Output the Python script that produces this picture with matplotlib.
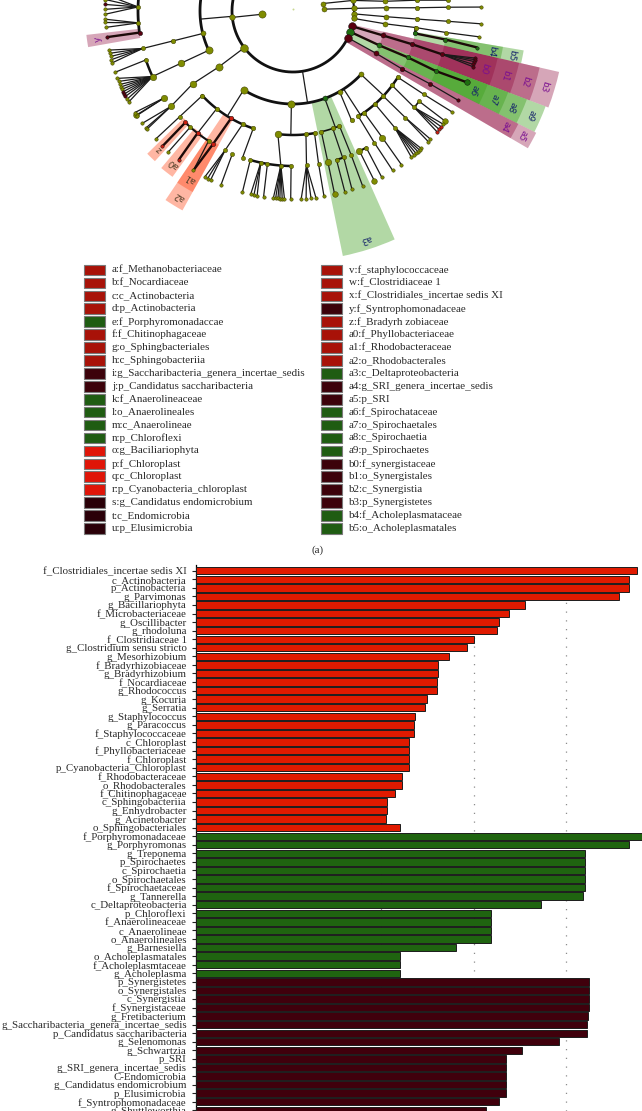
import numpy as np
import matplotlib
matplotlib.use('Agg')
import matplotlib.pyplot as plt
from matplotlib.patches import Wedge, Rectangle
from matplotlib.collections import LineCollection

# bar chart data, top to bottom
red_names = ['f_Clostridiales_incertae sedis XI','c_Actinobacteria','p_Actinobacteria','g_Parvimonas','g_Bacillariophyta',
             'f_Microbacteriaceae','g_Oscillibacter','g_rhodoluna','f_Clostridiaceae 1','g_Clostridium sensu stricto',
             'g_Mesorhizobium','f_Bradyrhizobiaceae','g_Bradyrhizobium','f_Nocardiaceae','g_Rhodococcus','g_Kocuria',
             'g_Serratia','g_Staphylococcus','g_Paracoccus','f_Staphylococcaceae','c_Chloroplast','f_Phyllobacteriaceae',
             'f_Chloroplast','p_Cyanobacteria_Chloroplast','f_Rhodobacteraceae','o_Rhodobacterales','f_Chitinophagaceae',
             'c_Sphingobacteriia','g_Enhydrobacter','g_Acinetobacter','o_Sphingobacteriales']
red_values = [4.77,4.68,4.68,4.57,3.56,3.38,3.28,3.25,3.00,2.93,2.74,2.62,2.62,2.60,2.60,2.50,2.48,2.37,2.36,2.36,
              2.30,2.30,2.30,2.30,2.23,2.23,2.15,2.06,2.06,2.05,2.20]
green_names = ['f_Porphyromonadaceae','g_Porphyromonas','g_Treponema','p_Spirochaetes','c_Spirochaetia','o_Spirochaetales',
               'f_Spirochaetaceae','g_Tannerella','c_Deltaproteobacteria','p_Chloroflexi','f_Anaerolineaceae','c_Anaerolineae',
               'o_Anaerolineales','g_Barnesiella','o_Acholeplasmatales','f_Acholeplasmtaceae','g_Acholeplasma']
green_values = [4.82,4.68,4.21,4.21,4.21,4.21,4.21,4.18,3.73,3.19,3.19,3.19,3.19,2.81,2.20,2.20,2.20]
dark_names = ['p_Synergistetes','o_Synergistales','c_Synergistia','f_Synergistaceae','g_Fretibacterium',
              'g_Saccharibacteria_genera_incertae_sedis','p_Candidatus saccharibacteria','g_Selenomonas','g_Schwartzia',
              'p_SRI','g_SRI_genera_incertae_sedis','C-Endomicrobia','g_Candidatus endomicrobium','p_Elusimicrobia',
              'f_Syntrophomonadaceae','g_Shuttleworthia']
dark_values = [4.25,4.25,4.25,4.25,4.24,4.23,4.23,3.93,3.52,3.35,3.35,3.35,3.35,3.35,3.28,3.14]

# legend of the cladogram
legend_left = ['a:f_Methanobacteriaceae','b:f_Nocardiaceae','c:c_Actinobacteria','d:p_Actinobacteria','e:f_Porphyromonadaccae',
               'f:f_Chitinophagaceae','g:o_Sphingbacteriales','h:c_Sphingobacteriia','i:g_Saccharibacteria_genera_incertae_sedis',
               'j:p_Candidatus saccharibacteria','k:f_Anaerolineaceae','l:o_Anaerolineales','m:c_Anaerolineae','n:p_Chloroflexi',
               'o:g_Baciliariophyta','p:f_Chloroplast','q:c_Chloroplast','r:p_Cyanobacteria_chloroplast',
               's:g_Candidatus endomicrobium','t:c_Endomicrobia','u:p_Elusimicrobia']
legend_left_groups = list('rrrrgrrrddggggRRRRkkk')
legend_right = ['v:f_staphylococcaceae','w:f_Clostridiaceae 1','x:f_Clostridiales_incertae sedis XI','y:f_Syntrophomonadaceae',
                'z:f_Bradyrh zobiaceae','a0:f_Phyllobacteriaceae','a1:f_Rhodobacteraceae','a2:o_Rhodobacterales',
                'a3:c_Deltaproteobacteria','a4:g_SRI_genera_incertae_sedis','a5:p_SRI','a6:f_Spirochataceae','a7:o_Spirochaetales',
                'a8:c_Spirochaetia','a9:p_Spirochaetes','b0:f_synergistaceae','b1:o_Synergistales','b2:c_Synergistia',
                'b3:p_Synergistetes','b4:f_Acholeplasmataceae','b5:o_Acholeplasmatales']
legend_right_groups = list('rrrdrrrrgddggggddddgg')
swatch_colours = {'r':'#a81208','R':'#e01508','g':'#1f5c12','d':'#3c020a','k':'#2a0008'}

# cladogram: ring radius by taxonomic level, branches as angle per level
levels = [0,31,61,93,124,155,188]
# (first level, angle at each following level, group)
chains = [(1,[-14,-10,-6,-5,-4],'o'),(1,[-3.4,-2.5,-2,-1.5,-1.4,-1.2],'o'),(2,[2.7,3.5,3.7,3.8,3.9],'o'),(2,[7,7.9,7.7,8,7.9],'o'),
          (4,[10.4,10.6,11.2],'g'),(2,[14.5,15.2,15.6,16.2],'d'),(2,[20,21.7,22,22.8,22.3],'g'),(2,[26,27,28,28,28.4],'a'),
          (4,[32.3,32.5,32.4],'o'),(4,[36.9,38.5],'o'),(5,[35.6,35.9],'o'),(4,[43.3,43.5],'o'),(4,[48.6,48.9],'o'),(4,[55,54.8,54.8],'o'),
          (4,[58.2,58.3,58],'o'),(3,[60,61.8],'o'),(5,[64.6,64.4],'o'),(5,[61.8,61.9],'o'),(4,[68,68,68.3],'o'),(3,[70],'g'),(4,[71.3],'o'),
          (5,[73.7,74],'o'),(5,[70.9,71.7],'o'),(4,[76.8,77,77.2],'o'),(4,[80,80.5,80.5],'o'),(4,[84,85],'o'),(4,[97,94.5],'o'),
          (5,[90.7,90.7],'o'),(5,[106,105.6],'o'),(5,[99.5,99],'o'),(4,[108.7,109],'o'),(4,[114,116],'o'),(5,[113,112.5],'o'),
          (3,[122],'o'),(4,[120,121,122],'r'),(3,[91],'o'),(3,[43],'o'),(4,[128],'o'),(5,[134,134],'r'),(5,[128,127.5],'r'),(5,[131.5,131.5],'o'),
          (5,[123,122],'o'),(4,[137,137,137],'o'),(2,[143,143,144,142],'o'),(5,[146,146.4],'o'),(3,[155,155,155],'o'),(5,[161.6,161],'o'),
          (3,[166,166,166],'o'),(5,[172,172],'d'),(1,[174,174],'o'),(5,[181.5],'o'),(5,[175.6],'o')]
# connecting lines between rings that carry no circle of their own: (angle, level)
spokes = [(81,2),(91,3),(43,3),(122,3),(175,2),(128,4),(70,3),(71.3,4),(57,3)]
# (angle, level, child angles one level further out, group)
fans = [(16.2,5,[14.5,15,15.6,16.5,17.2],'d'),(38.5,5,[37,38,39,40],'o'),(43.5,5,[43,44],'o'),(48.9,5,[47,47.7,48.4,49.2,50,51],'o'),
        (102,5,[102,103,101],'o'),(94.5,5,[96,95.3,94.6,94,93.3,92.6],'o'),(85,5,[87.5,86,84.5,83],'o'),(116,5,[118,117,116],'o'),
        (142,5,[143.3,141.5,141],'o'),(146,5,[147.3,146.2],'o'),(155,5,[159,158,157,156.2,155.4,154.6,153.8,153,152,151],'o'),
        (166,5,[168,167,166,165,164],'o'),(181.5,5,[185,183.5,182,180.5,179],'o'),(175.6,5,[177.5,176.5,175],'o')]
# (from angle, to angle, level, line width)
arcs = [(-10,8,2,1.5),(13,190,2,2.0),(7.7,10.4,4,1.8),(43,122,3,2.0),(32.3,58.2,4,1.8),(35.6,38.5,5,1.2),(80,97,4,1.8),(90.7,106,5,1.8),
        (61.8,64.6,5,1.5),(70.9,73.7,5,1.5),(108.7,137,4,1.8),(123,134,5,1.5),(155,190,3,2.0),(155,161.6,5,1.8),(172,190,5,2.0),
        (68,76.8,4,1.2)]
# (level, angle) of the larger circles
big_nodes = [(1,174),(2,143),(3,143),(4,144),(5,142),(5,146),(6,146.4),(3,155),(4,155),(5,155),(5,77),(6,77.2),(5,64.6),(6,64.4),
             (5,54.8),(6,35.9),(2,14.5),(2,20),(3,91),(3,122),(4,97),(6,22.3),(2,26)]
dark_leaves = [(6,154.6),(6,153.8),(6,153),(6,182)]
red_leaves = [(6,38),(6,39),(6,40)]

# sectors: label, from angle, to angle, inner and outer radius, group
sector_names = ['a3','b0','b1','b2','b3','a6','a7','a8','a9','a4','a5','b4','b5','y','z','a0','a1','a2']
sector_from = [66,12.9,12.9,12.9,12.9,20.7,20.7,20.7,20.7,26.6,26.6,9.7,9.7,170,132.6,126,119,119]
sector_to = [78.5,20.7,20.7,20.7,20.7,26.6,26.6,26.6,26.6,30.3,30.3,12.9,12.9,173.4,135.6,130,124,124]
sector_inner = [93,155,124,93,61,155,124,93,61,61,61,155,124,155,153,153,153,124]
sector_outer = [250,210,232,253,273,208,230,250,270,252,272,213,234,208,204,205,207,228]
sector_groups = ['g','d','d','d','d','g','g','g','g','d','d','g','g','d','r','r','r','r']
sector_colours = {'g':('#3f9f1f',0.40),'d':('#8f0a3c',0.36),'r':('#ff4a1a',0.40)}
label_colours = {'g':'#15246a','d':'#7a1090','r':'#54402a'}
node_colours = {'o':'#7f8c00','g':'#1f6e10','d':'#5a0010','a':'#5a0010','r':'#c81e10'}

cx, cy = 293, 11
W, H = 642, 1111
serif = ['Liberation Serif','DejaVu Serif']
text_colour = '#2a2a2a'

def polar(angle, level):
    rad = np.radians(angle)
    return cx + levels[level]*np.cos(rad), cy + levels[level]*np.sin(rad)

fig = plt.figure(figsize=(W/100,H/100), dpi=100, facecolor='white')

# everything above the bars is drawn in pixel coordinates
top = fig.add_axes([0,0,1,1])
top.set_xlim(0,W)
top.set_ylim(H,0)
top.axis('off')

for i in range(len(sector_names)):
    colour, alpha = sector_colours[sector_groups[i]]
    top.add_patch(Wedge((cx,cy),sector_outer[i],sector_from[i],sector_to[i],width=sector_outer[i]-sector_inner[i],
                        facecolor=colour,alpha=alpha,edgecolor='none',zorder=1))
    mid = (sector_from[i]+sector_to[i])/2
    r = sector_outer[i]-11
    top.text(cx+r*np.cos(np.radians(mid)),cy+r*np.sin(np.radians(mid)),sector_names[i],rotation=270-mid,fontsize=6.5,
             color=label_colours[sector_groups[i]],ha='center',va='center',rotation_mode='anchor',zorder=5)

for a0,a1,lev,lw in arcs:
    t = np.radians(np.linspace(a0,a1,60))
    top.plot(cx+levels[lev]*np.cos(t),cy+levels[lev]*np.sin(t),color='#111111',lw=lw,zorder=2)

segs, thick, pts = [], [], {}
for a,lev in spokes:
    segs.append([polar(a,lev),polar(a,lev+1)])
for start,angles,group in chains:
    xy = [polar(a,start+k) for k,a in enumerate(angles)]
    for p,q in zip(xy[:-1],xy[1:]):
        (thick if group in 'rdg' else segs).append([p,q])
    for k,a in enumerate(angles):
        pts[(start+k,a)] = group
for a,lev,kids,group in fans:
    for kid in kids:
        segs.append([polar(a,lev),polar(kid,lev+1)])
        pts[(lev+1,kid)] = group
    pts.setdefault((lev,a),group)
top.add_collection(LineCollection(segs,colors='#1a1a1a',linewidths=0.9,zorder=3))
top.add_collection(LineCollection(thick,colors='#1c0a08',linewidths=1.7,zorder=3))

for (lev,a),group in pts.items():
    if (lev,a) in dark_leaves:
        group = 'd'
    if (lev,a) in red_leaves:
        group = 'r'
    d = {1:5,2:5.5,3:5,4:4.5,5:4.2,6:3.4}[lev]
    if (lev,a) in big_nodes:
        d += 2.2
    x,y = polar(a,lev)
    top.scatter([x],[y],s=(d*0.72)**2,color=node_colours[group],edgecolors='#3c3c00' if group=='o' else '#111111',
                linewidths=0.35,zorder=4)
top.scatter([cx],[cy-2],s=2,color='#c8d890',linewidths=0,zorder=4)

# legend
for names,groups,x_box,x_txt in [(legend_left,legend_left_groups,84,112),(legend_right,legend_right_groups,321,349)]:
    for i,name in enumerate(names):
        y = 270+12.92*i
        top.add_patch(Rectangle((x_box,y-5.3),21,10.6,facecolor=swatch_colours[groups[i]],edgecolor='#7a7a7a',lw=0.8))
        top.text(x_txt,y,name,family=serif,fontsize=7.9,color=text_colour,ha='left',va='center')
top.text(318,550,'(a)',family=serif,fontsize=7.9,color=text_colour,ha='center',va='center')

# bars
names = red_names+green_names+dark_names
values = red_values+green_values+dark_values
colours = ['#e01a00']*len(red_names)+['#1f6410']*len(green_names)+['#40000c']*len(dark_names)
step = 8.565
ax = fig.add_axes([196.3/W,0,1-196.3/W,1-565/H])
ax.patch.set_alpha(0)
ax.barh(np.arange(len(names)),values,height=0.86,color=colours,edgecolor='#1c1c1c',linewidth=0.7,zorder=3)
ax.set_xlim(0,(W-196.3)/92.4)
ax.set_ylim((H-570.7)/step,(565-570.7)/step)
ax.set_xticks([2,3,4])
ax.tick_params(axis='x',bottom=False,labelbottom=False)
ax.grid(axis='x',color='#8c8c8c',linestyle=(0,(1,6)),linewidth=0.9,zorder=0)
ax.set_yticks(np.arange(len(names)))
ax.set_yticklabels(names,family=serif,fontsize=7.85,color=text_colour)
ax.tick_params(axis='y',length=2.9,width=0.8,pad=4,color='#222222')
for side in ['top','right','bottom']:
    ax.spines[side].set_visible(False)
ax.spines['left'].set_linewidth(0.9)

fig.savefig('out.png',dpi=100)
